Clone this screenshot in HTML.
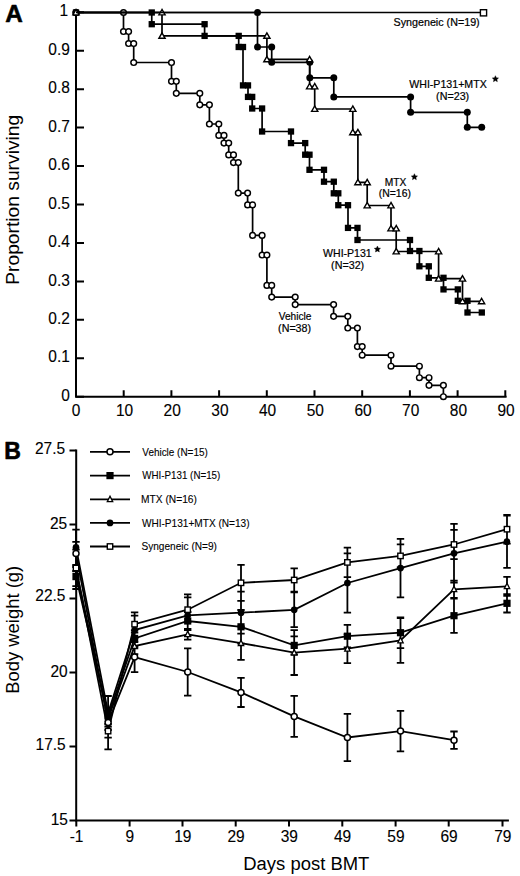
<!DOCTYPE html>
<html><head><meta charset="utf-8"><title>Figure</title>
<style>html,body{margin:0;padding:0;background:#fff;}body{width:520px;height:876px;overflow:hidden;font-family:"Liberation Sans", sans-serif;}svg{display:block;}</style>
</head><body>
<svg width="520" height="876" viewBox="0 0 520 876">
<rect width="520" height="876" fill="#fff"/>
<text x="5.2" y="22.0" font-family='"Liberation Sans", sans-serif' font-weight="bold" font-size="24.3" stroke="#000" stroke-width="0.6" stroke-linejoin="round">A</text>
<path d="M76.0 12.300000000000011 V396.7 H505.6" fill="none" stroke="#000" stroke-width="2.0" stroke-linecap="square"/>
<path d="M76.0 396.7H84M76.0 358.3H84M76.0 319.8H84M76.0 281.4H84M76.0 242.9H84M76.0 204.5H84M76.0 166.1H84M76.0 127.6H84M76.0 89.2H84M76.0 50.7H84M76.0 12.3H84M76.0 396.7V390.3M123.7 396.7V390.3M171.4 396.7V390.3M219.1 396.7V390.3M266.8 396.7V390.3M314.5 396.7V390.3M362.2 396.7V390.3M409.9 396.7V390.3M457.6 396.7V390.3M505.3 396.7V390.3" stroke="#000" stroke-width="2.0" fill="none"/>
<g font-family='"Liberation Sans", sans-serif' font-size="15.8" fill="#000" stroke="#000" stroke-width="0.12"><text x="69.9" y="400.8" text-anchor="end" textLength="8.62" lengthAdjust="spacingAndGlyphs">0</text><text x="69.9" y="362.4" text-anchor="end" textLength="21.55" lengthAdjust="spacingAndGlyphs">0.1</text><text x="69.9" y="323.9" text-anchor="end" textLength="21.55" lengthAdjust="spacingAndGlyphs">0.2</text><text x="69.9" y="285.5" text-anchor="end" textLength="21.55" lengthAdjust="spacingAndGlyphs">0.3</text><text x="69.9" y="247.0" text-anchor="end" textLength="21.55" lengthAdjust="spacingAndGlyphs">0.4</text><text x="69.9" y="208.6" text-anchor="end" textLength="21.55" lengthAdjust="spacingAndGlyphs">0.5</text><text x="69.9" y="170.2" text-anchor="end" textLength="21.55" lengthAdjust="spacingAndGlyphs">0.6</text><text x="69.9" y="131.7" text-anchor="end" textLength="21.55" lengthAdjust="spacingAndGlyphs">0.7</text><text x="69.9" y="93.3" text-anchor="end" textLength="21.55" lengthAdjust="spacingAndGlyphs">0.8</text><text x="69.9" y="54.8" text-anchor="end" textLength="21.55" lengthAdjust="spacingAndGlyphs">0.9</text><text x="59.6" y="16.4" textLength="8.62" lengthAdjust="spacingAndGlyphs">1</text><text x="76.0" y="415.8" text-anchor="middle" textLength="8.62" lengthAdjust="spacingAndGlyphs">0</text><text x="124.5" y="415.8" text-anchor="middle" textLength="17.24" lengthAdjust="spacingAndGlyphs">10</text><text x="172.2" y="415.8" text-anchor="middle" textLength="17.24" lengthAdjust="spacingAndGlyphs">20</text><text x="219.9" y="415.8" text-anchor="middle" textLength="17.24" lengthAdjust="spacingAndGlyphs">30</text><text x="267.6" y="415.8" text-anchor="middle" textLength="17.24" lengthAdjust="spacingAndGlyphs">40</text><text x="315.3" y="415.8" text-anchor="middle" textLength="17.24" lengthAdjust="spacingAndGlyphs">50</text><text x="363.0" y="415.8" text-anchor="middle" textLength="17.24" lengthAdjust="spacingAndGlyphs">60</text><text x="410.7" y="415.8" text-anchor="middle" textLength="17.24" lengthAdjust="spacingAndGlyphs">70</text><text x="458.4" y="415.8" text-anchor="middle" textLength="17.24" lengthAdjust="spacingAndGlyphs">80</text><text x="506.1" y="415.8" text-anchor="middle" textLength="17.24" lengthAdjust="spacingAndGlyphs">90</text></g>
<text transform="translate(19.2 284.8) rotate(-90)" font-family='"Liberation Sans", sans-serif' font-size="18.4" textLength="170" lengthAdjust="spacingAndGlyphs">Proportion surviving</text>
<path d="M76 12.5 L123.5 12.5 L123.5 31.5 L128.6 31.5 L128.6 43.5 L133.7 43.5 L133.7 62.5 L171.5 62.5 L171.5 81.3 L176.3 81.3 L176.3 93.3 L199.8 93.3 L199.8 104.8 L209.4 104.8 L209.4 124 L218.8 124 L218.8 135.4 L224 135.4 L224 143.1 L228.7 143.1 L228.7 154.9 L233.5 154.9 L233.5 162.6 L238.3 162.6 L238.3 193.1 L247.6 193.1 L247.6 204.9 L252.6 204.9 L252.6 235.4 L262.1 235.4 L262.1 255 L266.9 255 L266.9 285.4 L271.7 285.4 L271.7 297.1 L295.2 297.1 L295.2 304.6 L333.6 304.6 L333.6 316.3 L347.8 316.3 L347.8 328 L357.4 328 L357.4 346.6 L362.2 346.6 L362.2 355.2 L391 355.2 L391 366.2 L419.4 366.2 L419.4 377.7 L429 377.7 L429 385.3 L443.4 385.3 L443.4 396.7" fill="none" stroke="#000" stroke-width="1.7" stroke-linejoin="miter"/>
<circle cx="76" cy="12.5" r="2.85" fill="#fff" stroke="#000" stroke-width="1.45"/><circle cx="123.5" cy="12.5" r="2.85" fill="#fff" stroke="#000" stroke-width="1.45"/><circle cx="123.5" cy="31.5" r="2.85" fill="#fff" stroke="#000" stroke-width="1.45"/><circle cx="128.6" cy="31.5" r="2.85" fill="#fff" stroke="#000" stroke-width="1.45"/><circle cx="128.6" cy="43.5" r="2.85" fill="#fff" stroke="#000" stroke-width="1.45"/><circle cx="133.7" cy="43.5" r="2.85" fill="#fff" stroke="#000" stroke-width="1.45"/><circle cx="133.7" cy="62.5" r="2.85" fill="#fff" stroke="#000" stroke-width="1.45"/><circle cx="171.5" cy="62.5" r="2.85" fill="#fff" stroke="#000" stroke-width="1.45"/><circle cx="171.5" cy="81.3" r="2.85" fill="#fff" stroke="#000" stroke-width="1.45"/><circle cx="176.3" cy="81.3" r="2.85" fill="#fff" stroke="#000" stroke-width="1.45"/><circle cx="176.3" cy="93.3" r="2.85" fill="#fff" stroke="#000" stroke-width="1.45"/><circle cx="199.8" cy="93.3" r="2.85" fill="#fff" stroke="#000" stroke-width="1.45"/><circle cx="199.8" cy="104.8" r="2.85" fill="#fff" stroke="#000" stroke-width="1.45"/><circle cx="209.4" cy="104.8" r="2.85" fill="#fff" stroke="#000" stroke-width="1.45"/><circle cx="209.4" cy="124" r="2.85" fill="#fff" stroke="#000" stroke-width="1.45"/><circle cx="218.8" cy="124" r="2.85" fill="#fff" stroke="#000" stroke-width="1.45"/><circle cx="218.8" cy="135.4" r="2.85" fill="#fff" stroke="#000" stroke-width="1.45"/><circle cx="224" cy="135.4" r="2.85" fill="#fff" stroke="#000" stroke-width="1.45"/><circle cx="224" cy="143.1" r="2.85" fill="#fff" stroke="#000" stroke-width="1.45"/><circle cx="228.7" cy="143.1" r="2.85" fill="#fff" stroke="#000" stroke-width="1.45"/><circle cx="228.7" cy="154.9" r="2.85" fill="#fff" stroke="#000" stroke-width="1.45"/><circle cx="233.5" cy="154.9" r="2.85" fill="#fff" stroke="#000" stroke-width="1.45"/><circle cx="233.5" cy="162.6" r="2.85" fill="#fff" stroke="#000" stroke-width="1.45"/><circle cx="238.3" cy="162.6" r="2.85" fill="#fff" stroke="#000" stroke-width="1.45"/><circle cx="238.3" cy="193.1" r="2.85" fill="#fff" stroke="#000" stroke-width="1.45"/><circle cx="247.6" cy="193.1" r="2.85" fill="#fff" stroke="#000" stroke-width="1.45"/><circle cx="247.6" cy="204.9" r="2.85" fill="#fff" stroke="#000" stroke-width="1.45"/><circle cx="252.6" cy="204.9" r="2.85" fill="#fff" stroke="#000" stroke-width="1.45"/><circle cx="252.6" cy="235.4" r="2.85" fill="#fff" stroke="#000" stroke-width="1.45"/><circle cx="262.1" cy="235.4" r="2.85" fill="#fff" stroke="#000" stroke-width="1.45"/><circle cx="262.1" cy="255" r="2.85" fill="#fff" stroke="#000" stroke-width="1.45"/><circle cx="266.9" cy="255" r="2.85" fill="#fff" stroke="#000" stroke-width="1.45"/><circle cx="266.9" cy="285.4" r="2.85" fill="#fff" stroke="#000" stroke-width="1.45"/><circle cx="271.7" cy="285.4" r="2.85" fill="#fff" stroke="#000" stroke-width="1.45"/><circle cx="271.7" cy="297.1" r="2.85" fill="#fff" stroke="#000" stroke-width="1.45"/><circle cx="295.2" cy="297.1" r="2.85" fill="#fff" stroke="#000" stroke-width="1.45"/><circle cx="295.2" cy="304.6" r="2.85" fill="#fff" stroke="#000" stroke-width="1.45"/><circle cx="333.6" cy="304.6" r="2.85" fill="#fff" stroke="#000" stroke-width="1.45"/><circle cx="333.6" cy="316.3" r="2.85" fill="#fff" stroke="#000" stroke-width="1.45"/><circle cx="347.8" cy="316.3" r="2.85" fill="#fff" stroke="#000" stroke-width="1.45"/><circle cx="347.8" cy="328" r="2.85" fill="#fff" stroke="#000" stroke-width="1.45"/><circle cx="357.4" cy="328" r="2.85" fill="#fff" stroke="#000" stroke-width="1.45"/><circle cx="357.4" cy="346.6" r="2.85" fill="#fff" stroke="#000" stroke-width="1.45"/><circle cx="362.2" cy="346.6" r="2.85" fill="#fff" stroke="#000" stroke-width="1.45"/><circle cx="362.2" cy="355.2" r="2.85" fill="#fff" stroke="#000" stroke-width="1.45"/><circle cx="391" cy="355.2" r="2.85" fill="#fff" stroke="#000" stroke-width="1.45"/><circle cx="391" cy="366.2" r="2.85" fill="#fff" stroke="#000" stroke-width="1.45"/><circle cx="419.4" cy="366.2" r="2.85" fill="#fff" stroke="#000" stroke-width="1.45"/><circle cx="419.4" cy="377.7" r="2.85" fill="#fff" stroke="#000" stroke-width="1.45"/><circle cx="429" cy="377.7" r="2.85" fill="#fff" stroke="#000" stroke-width="1.45"/><circle cx="429" cy="385.3" r="2.85" fill="#fff" stroke="#000" stroke-width="1.45"/><circle cx="443.4" cy="385.3" r="2.85" fill="#fff" stroke="#000" stroke-width="1.45"/><circle cx="443.4" cy="396.7" r="2.85" fill="#fff" stroke="#000" stroke-width="1.45"/>
<path d="M76 12.5 L257.5 12.5 L257.5 47 L271.7 47 L271.7 62.3 L309.8 62.3 L309.8 77.8 L333.8 77.8 L333.8 96.9 L410.6 96.9 L410.6 112.3 L467.3 112.3 L467.3 127.3 L481.7 127.3" fill="none" stroke="#000" stroke-width="1.7" stroke-linejoin="miter"/>
<circle cx="76" cy="12.5" r="3.5" fill="#000"/><circle cx="257.5" cy="12.5" r="3.5" fill="#000"/><circle cx="257.5" cy="47" r="3.5" fill="#000"/><circle cx="271.7" cy="47" r="3.5" fill="#000"/><circle cx="271.7" cy="62.3" r="3.5" fill="#000"/><circle cx="309.8" cy="62.3" r="3.5" fill="#000"/><circle cx="309.8" cy="77.8" r="3.5" fill="#000"/><circle cx="333.8" cy="77.8" r="3.5" fill="#000"/><circle cx="333.8" cy="96.9" r="3.5" fill="#000"/><circle cx="410.6" cy="96.9" r="3.5" fill="#000"/><circle cx="410.6" cy="112.3" r="3.5" fill="#000"/><circle cx="467.3" cy="112.3" r="3.5" fill="#000"/><circle cx="467.3" cy="127.3" r="3.5" fill="#000"/><circle cx="481.7" cy="127.3" r="3.5" fill="#000"/>
<path d="M76 12.5 L151.75 12.5 L151.75 24.2 L204.6 24.2 L204.6 35.9 L238.7 35.9 L238.7 47 L243 47 L243 85.4 L248 85.4 L248 96.9 L252.2 96.9 L252.2 108.5 L262.1 108.5 L262.1 131.5 L291 131.5 L291 143.1 L305.2 143.1 L305.2 154.7 L309.5 154.7 L309.5 169.8 L324 169.8 L324 181.7 L333.8 181.7 L333.8 193.3 L338.3 193.3 L338.3 205.2 L348 205.2 L348 227.9 L357.5 227.9 L357.5 240 L410 240 L410 251 L419.4 251 L419.4 266.3 L428.8 266.3 L428.8 277.8 L443.5 277.8 L443.5 289.4 L457.8 289.4 L457.8 300.8 L467.5 300.8 L467.5 312.5 L481.8 312.5" fill="none" stroke="#000" stroke-width="1.7" stroke-linejoin="miter"/>
<rect x="72.85" y="9.35" width="6.3" height="6.3" fill="#000"/><rect x="148.60" y="9.35" width="6.3" height="6.3" fill="#000"/><rect x="148.60" y="21.05" width="6.3" height="6.3" fill="#000"/><rect x="201.45" y="21.05" width="6.3" height="6.3" fill="#000"/><rect x="201.45" y="32.75" width="6.3" height="6.3" fill="#000"/><rect x="235.55" y="32.75" width="6.3" height="6.3" fill="#000"/><rect x="235.55" y="43.85" width="6.3" height="6.3" fill="#000"/><rect x="239.85" y="43.85" width="6.3" height="6.3" fill="#000"/><rect x="239.85" y="82.25" width="6.3" height="6.3" fill="#000"/><rect x="244.85" y="82.25" width="6.3" height="6.3" fill="#000"/><rect x="244.85" y="93.75" width="6.3" height="6.3" fill="#000"/><rect x="249.05" y="93.75" width="6.3" height="6.3" fill="#000"/><rect x="249.05" y="105.35" width="6.3" height="6.3" fill="#000"/><rect x="258.95" y="105.35" width="6.3" height="6.3" fill="#000"/><rect x="258.95" y="128.35" width="6.3" height="6.3" fill="#000"/><rect x="287.85" y="128.35" width="6.3" height="6.3" fill="#000"/><rect x="287.85" y="139.95" width="6.3" height="6.3" fill="#000"/><rect x="302.05" y="139.95" width="6.3" height="6.3" fill="#000"/><rect x="302.05" y="151.55" width="6.3" height="6.3" fill="#000"/><rect x="306.35" y="151.55" width="6.3" height="6.3" fill="#000"/><rect x="306.35" y="166.65" width="6.3" height="6.3" fill="#000"/><rect x="320.85" y="166.65" width="6.3" height="6.3" fill="#000"/><rect x="320.85" y="178.55" width="6.3" height="6.3" fill="#000"/><rect x="330.65" y="178.55" width="6.3" height="6.3" fill="#000"/><rect x="330.65" y="190.15" width="6.3" height="6.3" fill="#000"/><rect x="335.15" y="190.15" width="6.3" height="6.3" fill="#000"/><rect x="335.15" y="202.05" width="6.3" height="6.3" fill="#000"/><rect x="344.85" y="202.05" width="6.3" height="6.3" fill="#000"/><rect x="344.85" y="224.75" width="6.3" height="6.3" fill="#000"/><rect x="354.35" y="224.75" width="6.3" height="6.3" fill="#000"/><rect x="354.35" y="236.85" width="6.3" height="6.3" fill="#000"/><rect x="406.85" y="236.85" width="6.3" height="6.3" fill="#000"/><rect x="406.85" y="247.85" width="6.3" height="6.3" fill="#000"/><rect x="416.25" y="247.85" width="6.3" height="6.3" fill="#000"/><rect x="416.25" y="263.15" width="6.3" height="6.3" fill="#000"/><rect x="425.65" y="263.15" width="6.3" height="6.3" fill="#000"/><rect x="425.65" y="274.65" width="6.3" height="6.3" fill="#000"/><rect x="440.35" y="274.65" width="6.3" height="6.3" fill="#000"/><rect x="440.35" y="286.25" width="6.3" height="6.3" fill="#000"/><rect x="454.65" y="286.25" width="6.3" height="6.3" fill="#000"/><rect x="454.65" y="297.65" width="6.3" height="6.3" fill="#000"/><rect x="464.35" y="297.65" width="6.3" height="6.3" fill="#000"/><rect x="464.35" y="309.35" width="6.3" height="6.3" fill="#000"/><rect x="478.65" y="309.35" width="6.3" height="6.3" fill="#000"/>
<path d="M76 12.5 L162 12.5 L162 35.9 L266.9 35.9 L266.9 59.4 L309.6 59.4 L309.6 86.5 L314.7 86.5 L314.7 109 L352.8 109 L352.8 132.3 L357.9 132.3 L357.9 182.3 L367.2 182.3 L367.2 205.5 L391 205.5 L391 228.5 L396.2 228.5 L396.2 251.5 L438.6 251.5 L438.6 278.7 L462.5 278.7 L462.5 301.3 L481.6 301.3" fill="none" stroke="#000" stroke-width="1.7" stroke-linejoin="miter"/>
<path d="M76.00 9.52L72.90 14.88L79.10 14.88Z" fill="#fff" stroke="#000" stroke-width="1.4" stroke-linejoin="miter"/><path d="M162.00 9.52L158.90 14.88L165.10 14.88Z" fill="#fff" stroke="#000" stroke-width="1.4" stroke-linejoin="miter"/><path d="M162.00 32.92L158.90 38.28L165.10 38.28Z" fill="#fff" stroke="#000" stroke-width="1.4" stroke-linejoin="miter"/><path d="M266.90 32.92L263.80 38.28L270.00 38.28Z" fill="#fff" stroke="#000" stroke-width="1.4" stroke-linejoin="miter"/><path d="M266.90 56.42L263.80 61.78L270.00 61.78Z" fill="#fff" stroke="#000" stroke-width="1.4" stroke-linejoin="miter"/><path d="M309.60 56.42L306.50 61.78L312.70 61.78Z" fill="#fff" stroke="#000" stroke-width="1.4" stroke-linejoin="miter"/><path d="M309.60 83.52L306.50 88.88L312.70 88.88Z" fill="#fff" stroke="#000" stroke-width="1.4" stroke-linejoin="miter"/><path d="M314.70 83.52L311.60 88.88L317.80 88.88Z" fill="#fff" stroke="#000" stroke-width="1.4" stroke-linejoin="miter"/><path d="M314.70 106.02L311.60 111.38L317.80 111.38Z" fill="#fff" stroke="#000" stroke-width="1.4" stroke-linejoin="miter"/><path d="M352.80 106.02L349.70 111.38L355.90 111.38Z" fill="#fff" stroke="#000" stroke-width="1.4" stroke-linejoin="miter"/><path d="M352.80 129.32L349.70 134.68L355.90 134.68Z" fill="#fff" stroke="#000" stroke-width="1.4" stroke-linejoin="miter"/><path d="M357.90 129.32L354.80 134.68L361.00 134.68Z" fill="#fff" stroke="#000" stroke-width="1.4" stroke-linejoin="miter"/><path d="M357.90 179.32L354.80 184.68L361.00 184.68Z" fill="#fff" stroke="#000" stroke-width="1.4" stroke-linejoin="miter"/><path d="M367.20 179.32L364.10 184.68L370.30 184.68Z" fill="#fff" stroke="#000" stroke-width="1.4" stroke-linejoin="miter"/><path d="M367.20 202.52L364.10 207.88L370.30 207.88Z" fill="#fff" stroke="#000" stroke-width="1.4" stroke-linejoin="miter"/><path d="M391.00 202.52L387.90 207.88L394.10 207.88Z" fill="#fff" stroke="#000" stroke-width="1.4" stroke-linejoin="miter"/><path d="M391.00 225.52L387.90 230.88L394.10 230.88Z" fill="#fff" stroke="#000" stroke-width="1.4" stroke-linejoin="miter"/><path d="M396.20 225.52L393.10 230.88L399.30 230.88Z" fill="#fff" stroke="#000" stroke-width="1.4" stroke-linejoin="miter"/><path d="M396.20 248.52L393.10 253.88L399.30 253.88Z" fill="#fff" stroke="#000" stroke-width="1.4" stroke-linejoin="miter"/><path d="M438.60 248.52L435.50 253.88L441.70 253.88Z" fill="#fff" stroke="#000" stroke-width="1.4" stroke-linejoin="miter"/><path d="M438.60 275.72L435.50 281.08L441.70 281.08Z" fill="#fff" stroke="#000" stroke-width="1.4" stroke-linejoin="miter"/><path d="M462.50 275.72L459.40 281.08L465.60 281.08Z" fill="#fff" stroke="#000" stroke-width="1.4" stroke-linejoin="miter"/><path d="M462.50 298.32L459.40 303.68L465.60 303.68Z" fill="#fff" stroke="#000" stroke-width="1.4" stroke-linejoin="miter"/><path d="M481.60 298.32L478.50 303.68L484.70 303.68Z" fill="#fff" stroke="#000" stroke-width="1.4" stroke-linejoin="miter"/>
<path d="M76 12.5 L483.7 12.5" fill="none" stroke="#000" stroke-width="1.4" stroke-linejoin="miter"/>
<rect x="480.40" y="9.70" width="6.2" height="6.2" fill="#fff" stroke="#000" stroke-width="1.4"/>
<g font-family='"Liberation Sans", sans-serif' font-size="10.2" fill="#000" stroke="#000" stroke-width="0.2"><text x="393.5" y="26.1" textLength="86.2" lengthAdjust="spacingAndGlyphs">Syngeneic (N=19)</text><text x="409.2" y="87.9" textLength="77.6" lengthAdjust="spacingAndGlyphs">WHI-P131+MTX</text><text x="436.1" y="99.8" textLength="33.1" lengthAdjust="spacingAndGlyphs">(N=23)</text><text x="384.8" y="186.0" textLength="21.6" lengthAdjust="spacingAndGlyphs">MTX</text><text x="378.8" y="197.0" textLength="32.1" lengthAdjust="spacingAndGlyphs">(N=16)</text><text x="323.1" y="256.9" textLength="48.6" lengthAdjust="spacingAndGlyphs">WHI-P131</text><text x="331.1" y="268.5" textLength="33.1" lengthAdjust="spacingAndGlyphs">(N=32)</text><text x="278.7" y="320.4" textLength="32.7" lengthAdjust="spacingAndGlyphs">Vehicle</text><text x="278.1" y="331.5" textLength="33.0" lengthAdjust="spacingAndGlyphs">(N=38)</text></g>
<polygon points="495.40,75.70 496.34,77.71 498.54,77.98 496.92,79.49 497.34,81.67 495.40,80.60 493.46,81.67 493.88,79.49 492.26,77.98 494.46,77.71" fill="#000" stroke="#000" stroke-width="0.4" stroke-linejoin="round"/>
<polygon points="414.40,173.70 415.34,175.71 417.54,175.98 415.92,177.49 416.34,179.67 414.40,178.60 412.46,179.67 412.88,177.49 411.26,175.98 413.46,175.71" fill="#000" stroke="#000" stroke-width="0.4" stroke-linejoin="round"/>
<polygon points="377.40,246.00 378.34,248.01 380.54,248.28 378.92,249.79 379.34,251.97 377.40,250.90 375.46,251.97 375.88,249.79 374.26,248.28 376.46,248.01" fill="#000" stroke="#000" stroke-width="0.4" stroke-linejoin="round"/>
<text x="4.2" y="458.6" font-family='"Liberation Sans", sans-serif' font-weight="bold" font-size="23" stroke="#000" stroke-width="0.6" stroke-linejoin="round">B</text>
<path d="M76.2 450.4 V820.4 H507.9" fill="none" stroke="#000" stroke-width="2.0" stroke-linecap="square"/>
<path d="M69.5 820.4H76.2M69.5 746.4H76.2M69.5 672.4H76.2M69.5 598.4H76.2M69.5 524.4H76.2M69.5 450.4H76.2M76.3 820.4V826.6M129.6 820.4V826.6M182.5 820.4V826.6M235.7 820.4V826.6M289.0 820.4V826.6M342.3 820.4V826.6M395.6 820.4V826.6M448.7 820.4V826.6M502.5 820.4V826.6" stroke="#000" stroke-width="2.0" fill="none"/>
<g font-family='"Liberation Sans", sans-serif' font-size="15.8" fill="#000" stroke="#000" stroke-width="0.12"><text x="68.0" y="824.5" text-anchor="end" textLength="17.24" lengthAdjust="spacingAndGlyphs">15</text><text x="65.7" y="749.8" text-anchor="end" textLength="30.16" lengthAdjust="spacingAndGlyphs">17.5</text><text x="67.7" y="676.9" text-anchor="end" textLength="17.24" lengthAdjust="spacingAndGlyphs">20</text><text x="65.5" y="600.9" text-anchor="end" textLength="30.16" lengthAdjust="spacingAndGlyphs">22.5</text><text x="67.2" y="528.5" text-anchor="end" textLength="17.24" lengthAdjust="spacingAndGlyphs">25</text><text x="65.1" y="453.7" text-anchor="end" textLength="30.16" lengthAdjust="spacingAndGlyphs">27.5</text><text x="76.6" y="841.9" text-anchor="middle" textLength="13.78" lengthAdjust="spacingAndGlyphs">-1</text><text x="129.9" y="841.9" text-anchor="middle" textLength="8.62" lengthAdjust="spacingAndGlyphs">9</text><text x="182.8" y="841.9" text-anchor="middle" textLength="17.24" lengthAdjust="spacingAndGlyphs">19</text><text x="236.0" y="841.9" text-anchor="middle" textLength="17.24" lengthAdjust="spacingAndGlyphs">29</text><text x="289.3" y="841.9" text-anchor="middle" textLength="17.24" lengthAdjust="spacingAndGlyphs">39</text><text x="342.6" y="841.9" text-anchor="middle" textLength="17.24" lengthAdjust="spacingAndGlyphs">49</text><text x="395.9" y="841.9" text-anchor="middle" textLength="17.24" lengthAdjust="spacingAndGlyphs">59</text><text x="449.0" y="841.9" text-anchor="middle" textLength="17.24" lengthAdjust="spacingAndGlyphs">69</text><text x="502.8" y="841.9" text-anchor="middle" textLength="17.24" lengthAdjust="spacingAndGlyphs">79</text></g>
<text transform="translate(18.8 693.8) rotate(-90)" font-family='"Liberation Sans", sans-serif' font-size="18.2" textLength="128" lengthAdjust="spacingAndGlyphs">Body weight (g)</text>
<text x="243.3" y="869.9" font-family='"Liberation Sans", sans-serif' font-size="18" textLength="126" lengthAdjust="spacingAndGlyphs">Days post BMT</text>
<path d="M76.0 565.0V571.0M72.3 565.0H79.7M72.3 571.0H79.7M108.1 712.8V749.4M104.4 712.8H111.8M104.4 749.4H111.8M134.6 615.7V632.7M130.9 615.7H138.3M130.9 632.7H138.3M187.7 597.3V622.1M184.0 597.3H191.4M184.0 622.1H191.4M241.0 564.8V600.8M237.3 564.8H244.7M237.3 600.8H244.7M294.2 568.3V591.7M290.5 568.3H297.9M290.5 591.7H297.9M347.4 547.6V577.2M343.7 547.6H351.1M343.7 577.2H351.1M400.5 544.3V567.5M396.8 544.3H404.2M396.8 567.5H404.2M454.0 529.9V559.1M450.3 529.9H457.7M450.3 559.1H457.7M507.0 514.8V543.6M503.3 514.8H510.7M503.3 543.6H510.7M76.0 529.6V565.2M72.3 529.6H79.7M72.3 565.2H79.7M108.1 696.0V730.0M104.4 696.0H111.8M104.4 730.0H111.8M134.6 612.3V647.9M130.9 612.3H138.3M130.9 647.9H138.3M187.7 594.4V636.2M184.0 594.4H191.4M184.0 636.2H191.4M241.0 591.7V633.7M237.3 591.7H244.7M237.3 633.7H244.7M294.2 592.4V627.2M290.5 592.4H297.9M290.5 627.2H297.9M347.4 553.3V612.7M343.7 553.3H351.1M343.7 612.7H351.1M400.5 538.9V597.3M396.8 538.9H404.2M396.8 597.3H404.2M454.0 523.9V582.7M450.3 523.9H457.7M450.3 582.7H457.7M507.0 515.5V567.9M503.3 515.5H510.7M503.3 567.9H510.7M76.0 567.0V586.2M72.3 567.0H79.7M72.3 586.2H79.7M108.1 708.0V724.0M104.4 708.0H111.8M104.4 724.0H111.8M134.6 630.4V646.4M130.9 630.4H138.3M130.9 646.4H138.3M187.7 612.0V630.0M184.0 612.0H191.4M184.0 630.0H191.4M241.0 610.0V643.6M237.3 610.0H244.7M237.3 643.6H244.7M294.2 636.4V654.4M290.5 636.4H297.9M290.5 654.4H297.9M347.4 624.9V647.5M343.7 624.9H351.1M343.7 647.5H351.1M400.5 617.3V648.1M396.8 617.3H404.2M396.8 648.1H404.2M454.0 598.5V632.9M450.3 598.5H457.7M450.3 632.9H457.7M507.0 594.1V612.5M503.3 594.1H510.7M503.3 612.5H510.7M76.0 549.6V589.0M72.3 549.6H79.7M72.3 589.0H79.7M108.1 710.5V726.5M104.4 710.5H111.8M104.4 726.5H111.8M134.6 638.1V654.1M130.9 638.1H138.3M130.9 654.1H138.3M187.7 628.9V639.7M184.0 628.9H191.4M184.0 639.7H191.4M241.0 626.4V659.8M237.3 626.4H244.7M237.3 659.8H244.7M294.2 630.2V675.0M290.5 630.2H297.9M290.5 675.0H297.9M347.4 634.3V663.1M343.7 634.3H351.1M343.7 663.1H351.1M400.5 618.0V662.8M396.8 618.0H404.2M396.8 662.8H404.2M454.0 580.7V597.9M450.3 580.7H457.7M450.3 597.9H457.7M507.0 576.8V595.8M503.3 576.8H510.7M503.3 595.8H510.7M76.0 541.9V565.3M72.3 541.9H79.7M72.3 565.3H79.7M108.1 707.6V737.6M104.4 707.6H111.8M104.4 737.6H111.8M134.6 642.1V672.1M130.9 642.1H138.3M130.9 672.1H138.3M187.7 648.3V695.7M184.0 648.3H191.4M184.0 695.7H191.4M241.0 677.8V707.0M237.3 677.8H244.7M237.3 707.0H244.7M294.2 695.9V736.9M290.5 695.9H297.9M290.5 736.9H297.9M347.4 713.9V761.1M343.7 713.9H351.1M343.7 761.1H351.1M400.5 710.8V751.4M396.8 710.8H404.2M396.8 751.4H404.2M454.0 731.5V748.9M450.3 731.5H457.7M450.3 748.9H457.7" stroke="#000" stroke-width="1.8" fill="none"/>
<path d="M76.0 568.0 L108.1 731.1 L134.6 624.2 L187.7 609.7 L241.0 582.8 L294.2 580.0 L347.4 562.4 L400.5 555.9 L454.0 544.5 L507.0 529.2" fill="none" stroke="#000" stroke-width="1.8" stroke-linejoin="miter"/>
<path d="M76.0 547.4 L108.1 713.0 L134.6 630.1 L187.7 615.3 L241.0 612.7 L294.2 609.8 L347.4 583.0 L400.5 568.1 L454.0 553.3 L507.0 541.7" fill="none" stroke="#000" stroke-width="1.8" stroke-linejoin="miter"/>
<path d="M76.0 576.6 L108.1 716.0 L134.6 638.4 L187.7 621.0 L241.0 626.8 L294.2 645.4 L347.4 636.2 L400.5 632.7 L454.0 615.7 L507.0 603.3" fill="none" stroke="#000" stroke-width="1.8" stroke-linejoin="miter"/>
<path d="M76.0 569.3 L108.1 718.5 L134.6 646.1 L187.7 634.3 L241.0 643.1 L294.2 652.6 L347.4 648.7 L400.5 640.4 L454.0 589.3 L507.0 586.3" fill="none" stroke="#000" stroke-width="1.8" stroke-linejoin="miter"/>
<path d="M76.0 553.6 L108.1 722.6 L134.6 657.1 L187.7 672.0 L241.0 692.4 L294.2 716.4 L347.4 737.5 L400.5 731.1 L454.0 740.2" fill="none" stroke="#000" stroke-width="1.8" stroke-linejoin="miter"/>
<path d="M76.00 566.30L73.30 571.70L78.70 571.70Z" fill="#fff" stroke="#000" stroke-width="1.3" stroke-linejoin="miter"/><path d="M108.10 715.50L105.40 720.90L110.80 720.90Z" fill="#fff" stroke="#000" stroke-width="1.3" stroke-linejoin="miter"/><path d="M134.60 643.10L131.90 648.50L137.30 648.50Z" fill="#fff" stroke="#000" stroke-width="1.3" stroke-linejoin="miter"/><path d="M187.70 631.30L185.00 636.70L190.40 636.70Z" fill="#fff" stroke="#000" stroke-width="1.3" stroke-linejoin="miter"/><path d="M241.00 640.10L238.30 645.50L243.70 645.50Z" fill="#fff" stroke="#000" stroke-width="1.3" stroke-linejoin="miter"/><path d="M294.20 649.60L291.50 655.00L296.90 655.00Z" fill="#fff" stroke="#000" stroke-width="1.3" stroke-linejoin="miter"/><path d="M347.40 645.70L344.70 651.10L350.10 651.10Z" fill="#fff" stroke="#000" stroke-width="1.3" stroke-linejoin="miter"/><path d="M400.50 637.40L397.80 642.80L403.20 642.80Z" fill="#fff" stroke="#000" stroke-width="1.3" stroke-linejoin="miter"/><path d="M454.00 586.30L451.30 591.70L456.70 591.70Z" fill="#fff" stroke="#000" stroke-width="1.3" stroke-linejoin="miter"/><path d="M507.00 583.30L504.30 588.70L509.70 588.70Z" fill="#fff" stroke="#000" stroke-width="1.3" stroke-linejoin="miter"/><rect x="72.40" y="573.00" width="7.2" height="7.2" fill="#000"/><rect x="104.50" y="712.40" width="7.2" height="7.2" fill="#000"/><rect x="131.00" y="634.80" width="7.2" height="7.2" fill="#000"/><rect x="184.10" y="617.40" width="7.2" height="7.2" fill="#000"/><rect x="237.40" y="623.20" width="7.2" height="7.2" fill="#000"/><rect x="290.60" y="641.80" width="7.2" height="7.2" fill="#000"/><rect x="343.80" y="632.60" width="7.2" height="7.2" fill="#000"/><rect x="396.90" y="629.10" width="7.2" height="7.2" fill="#000"/><rect x="450.40" y="612.10" width="7.2" height="7.2" fill="#000"/><rect x="503.40" y="599.70" width="7.2" height="7.2" fill="#000"/><circle cx="76.0" cy="547.4" r="3.35" fill="#000"/><circle cx="108.1" cy="713.0" r="3.35" fill="#000"/><circle cx="134.6" cy="630.1" r="3.35" fill="#000"/><circle cx="187.7" cy="615.3" r="3.35" fill="#000"/><circle cx="241.0" cy="612.7" r="3.35" fill="#000"/><circle cx="294.2" cy="609.8" r="3.35" fill="#000"/><circle cx="347.4" cy="583.0" r="3.35" fill="#000"/><circle cx="400.5" cy="568.1" r="3.35" fill="#000"/><circle cx="454.0" cy="553.3" r="3.35" fill="#000"/><circle cx="507.0" cy="541.7" r="3.35" fill="#000"/><circle cx="76.0" cy="553.6" r="3.0" fill="#fff" stroke="#000" stroke-width="1.5"/><circle cx="108.1" cy="722.6" r="3.0" fill="#fff" stroke="#000" stroke-width="1.5"/><circle cx="134.6" cy="657.1" r="3.0" fill="#fff" stroke="#000" stroke-width="1.5"/><circle cx="187.7" cy="672.0" r="3.0" fill="#fff" stroke="#000" stroke-width="1.5"/><circle cx="241.0" cy="692.4" r="3.0" fill="#fff" stroke="#000" stroke-width="1.5"/><circle cx="294.2" cy="716.4" r="3.0" fill="#fff" stroke="#000" stroke-width="1.5"/><circle cx="347.4" cy="737.5" r="3.0" fill="#fff" stroke="#000" stroke-width="1.5"/><circle cx="400.5" cy="731.1" r="3.0" fill="#fff" stroke="#000" stroke-width="1.5"/><circle cx="454.0" cy="740.2" r="3.0" fill="#fff" stroke="#000" stroke-width="1.5"/><rect x="73.30" y="565.30" width="5.4" height="5.4" fill="#fff" stroke="#000" stroke-width="1.4"/><rect x="105.40" y="728.40" width="5.4" height="5.4" fill="#fff" stroke="#000" stroke-width="1.4"/><rect x="131.90" y="621.50" width="5.4" height="5.4" fill="#fff" stroke="#000" stroke-width="1.4"/><rect x="185.00" y="607.00" width="5.4" height="5.4" fill="#fff" stroke="#000" stroke-width="1.4"/><rect x="238.30" y="580.10" width="5.4" height="5.4" fill="#fff" stroke="#000" stroke-width="1.4"/><rect x="291.50" y="577.30" width="5.4" height="5.4" fill="#fff" stroke="#000" stroke-width="1.4"/><rect x="344.70" y="559.70" width="5.4" height="5.4" fill="#fff" stroke="#000" stroke-width="1.4"/><rect x="397.80" y="553.20" width="5.4" height="5.4" fill="#fff" stroke="#000" stroke-width="1.4"/><rect x="451.30" y="541.80" width="5.4" height="5.4" fill="#fff" stroke="#000" stroke-width="1.4"/><rect x="504.30" y="526.50" width="5.4" height="5.4" fill="#fff" stroke="#000" stroke-width="1.4"/>
<path d="M90 451.8H130" stroke="#000" stroke-width="1.8"/><circle cx="110" cy="451.8" r="3.0" fill="#fff" stroke="#000" stroke-width="1.5"/><text x="142.3" y="455.5" font-family='"Liberation Sans", sans-serif' font-size="10.1" stroke="#000" stroke-width="0.1" textLength="65.5" lengthAdjust="spacingAndGlyphs">Vehicle (N=15)</text><path d="M90 475.6H130" stroke="#000" stroke-width="1.8"/><rect x="106.40" y="472.00" width="7.2" height="7.2" fill="#000"/><text x="142.3" y="479.3" font-family='"Liberation Sans", sans-serif' font-size="10.1" stroke="#000" stroke-width="0.1" textLength="78.0" lengthAdjust="spacingAndGlyphs">WHI-P131 (N=15)</text><path d="M90 499.3H130" stroke="#000" stroke-width="1.8"/><path d="M110.00 496.30L107.30 501.70L112.70 501.70Z" fill="#fff" stroke="#000" stroke-width="1.3" stroke-linejoin="miter"/><text x="141.1" y="503.0" font-family='"Liberation Sans", sans-serif' font-size="10.1" stroke="#000" stroke-width="0.1" textLength="55.8" lengthAdjust="spacingAndGlyphs">MTX (N=16)</text><path d="M90 522.9H130" stroke="#000" stroke-width="1.8"/><circle cx="110" cy="522.9" r="3.35" fill="#000"/><text x="141.9" y="526.6" font-family='"Liberation Sans", sans-serif' font-size="10.1" stroke="#000" stroke-width="0.1" textLength="107.7" lengthAdjust="spacingAndGlyphs">WHI-P131+MTX (N=13)</text><path d="M90 546.5H130" stroke="#000" stroke-width="1.8"/><rect x="107.30" y="543.80" width="5.4" height="5.4" fill="#fff" stroke="#000" stroke-width="1.4"/><text x="141.45" y="550.2" font-family='"Liberation Sans", sans-serif' font-size="10.1" stroke="#000" stroke-width="0.1" textLength="75.5" lengthAdjust="spacingAndGlyphs">Syngeneic (N=9)</text>
</svg>
</body></html>
